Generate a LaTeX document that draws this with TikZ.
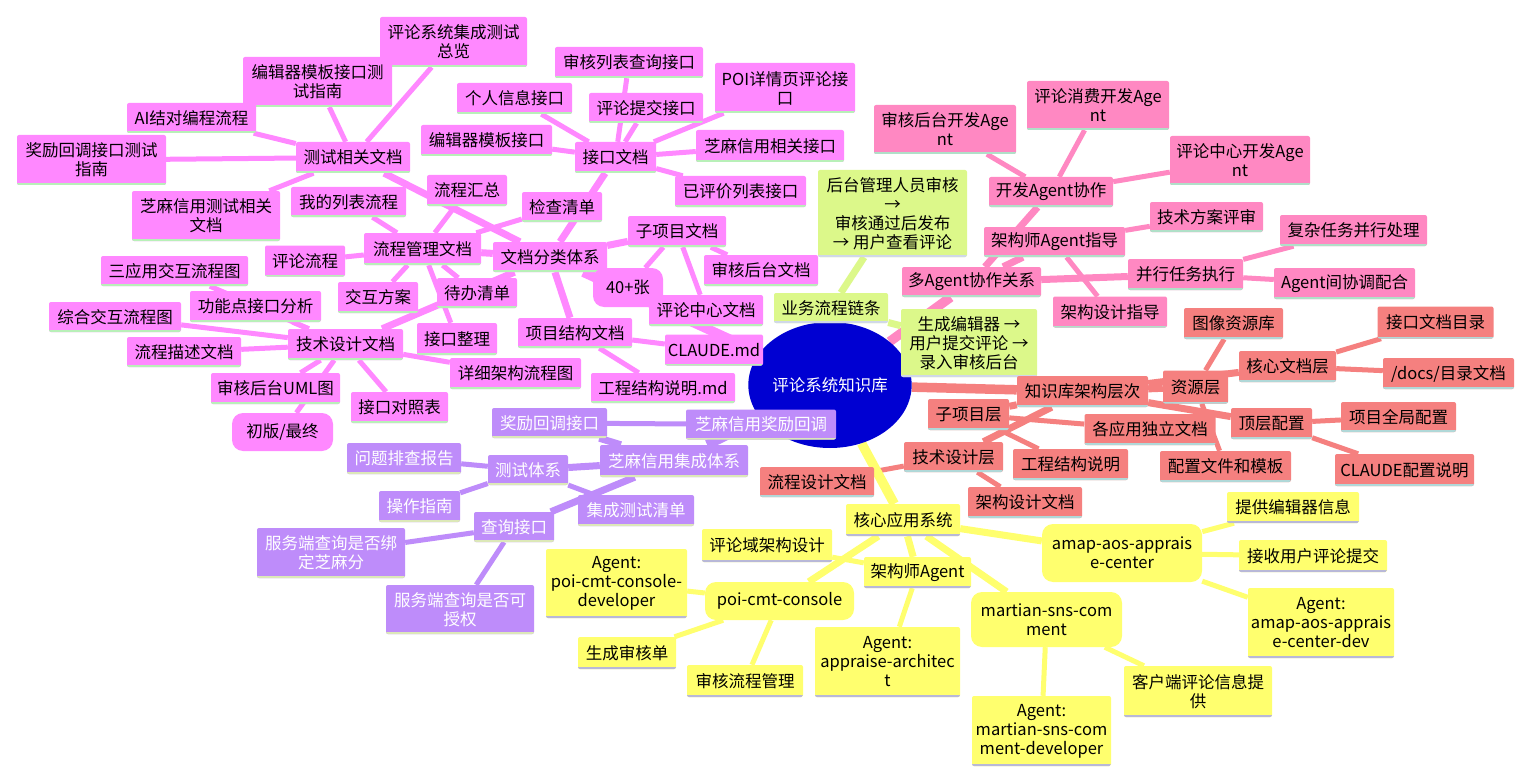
\documentclass[tikz,border=0pt]{standalone}
\usepackage{fontspec}
\setmainfont{Noto Sans CJK SC}
\usetikzlibrary{shapes.geometric}
\definecolor{cMg}{HTML}{FF88FF}
\definecolor{cPk}{HTML}{FF88C2}
\definecolor{cGr}{HTML}{DCF88A}
\definecolor{cSa}{HTML}{F5807F}
\definecolor{cPu}{HTML}{BE8CFA}
\definecolor{cYe}{HTML}{FFFF6E}
\definecolor{cRoot}{HTML}{0000D2}
\definecolor{cMgL}{HTML}{B8F0B8}
\definecolor{cPkL}{HTML}{B0E0C8}
\definecolor{cGrL}{HTML}{D0D8E8}
\definecolor{cSaL}{HTML}{B0D8D8}
\definecolor{cPuL}{HTML}{DCE8B8}
\definecolor{cYeL}{HTML}{B8B8D8}
\pgfdeclarelayer{bg}
\pgfsetlayers{bg,main}
\begin{document}
\begin{tikzpicture}[x=1pt,y=-1pt,
  nb/.style={inner sep=0pt, align=center, font=\fontsize{16.5}{19}\selectfont, rounded corners=2pt},
  sz/.style 2 args={minimum width=#1pt,minimum height=#2pt},
  bl/.style={path picture={\draw[#1,line width=4pt] (path picture bounding box.south west) -- (path picture bounding box.south east);}},
  mg/.style={nb, fill=cMg, bl=cMgL},
  mgr/.style={nb, fill=cMg, rounded corners=11pt},
  pk/.style={nb, fill=cPk, bl=cPkL},
  gr/.style={nb, fill=cGr, bl=cGrL},
  sa/.style={nb, fill=cSa, bl=cSaL},
  pu/.style={nb, fill=cPu, text=white, bl=cPuL},
  ye/.style={nb, fill=cYe, bl=cYeL},
  yer/.style={nb, fill=cYe, rounded corners=11pt},
  E0/.style={line width=9.5pt},
  E1/.style={line width=7pt},
  E2/.style={line width=5pt}]

% root
\node[ellipse, fill=cRoot, text=white, inner sep=0pt, minimum width=134pt, minimum height=126pt, font=\fontsize{16.5}{19}\selectfont] (root) at (830,385) {评论系统知识库};

% ---------- magenta branch ----------
\node[mg,sz={147}{50}] (t1) at (453.5,42) {评论系统集成测试\\总览};
\node[mg,sz={149}{50}] (t2) at (317.5,82) {编辑器模板接口测\\试指南};
\node[mg,sz={129}{30}] (t3) at (191.5,118) {AI结对编程流程};
\node[mg,sz={149}{50}] (t4) at (91.5,160) {奖励回调接口测试\\指南};
\node[mg,sz={114}{31}] (tst) at (353,157.5) {测试相关文档};
\node[mg,sz={148}{50}] (t5) at (206,216) {芝麻信用测试相关\\文档};
\node[mg,sz={115}{30}] (p1) at (348.5,202) {我的列表流程};
\node[mg,sz={117}{32}] (pm) at (422.5,249) {流程管理文档};
\node[mg,sz={148}{31}] (i1) at (629,62.5) {审核列表查询接口};
\node[mg,sz={115}{31}] (i2) at (514.5,98.5) {个人信息接口};
\node[mg,sz={140}{50}] (i3) at (785,88) {POI详情页评论接\\口};
\node[mg,sz={114}{30}] (i4) at (646,108) {评论提交接口};
\node[mg,sz={131}{31}] (i5) at (486.5,140.5) {编辑器模板接口};
\node[mg,sz={81}{31}] (ifc) at (615.5,157.5) {接口文档};
\node[mg,sz={148}{32}] (i6) at (770,146) {芝麻信用相关接口};
\node[mg,sz={131}{31}] (i7) at (740.5,191.5) {已评价列表接口};
\node[mg,sz={80}{31}] (p2) at (467,190.5) {流程汇总};
\node[mg,sz={80}{30}] (p3) at (562,207) {检查清单};
\node[mg,sz={98}{31}] (sub) at (677,231.5) {子项目文档};
\node[mg,sz={114}{30}] (doc) at (550,257) {文档分类体系};
\node[mg,sz={80}{30}] (p4) at (477,293) {待办清单};
\node[mg,sz={114}{31}] (s1) at (761,270.5) {审核后台文档};
\node[mgr,sz={70}{39}] (s2) at (628,287.5) {40+张};
\node[mg,sz={114}{31}] (s3) at (706,310.5) {评论中心文档};
\node[mg,sz={114}{30}] (prj) at (575,333) {项目结构文档};
\node[mg,sz={80}{32}] (p5) at (457,339) {接口整理};
\node[mg,sz={98}{31}] (r1) at (714,350) {CLAUDE.md};
\node[mg,sz={131}{31}] (d1) at (515.5,373.5) {详细架构流程图};
\node[mg,sz={144}{30}] (r2) at (663,388) {工程结构说明.md};
\node[mg,sz={80}{31}] (p6) at (305,261) {评论流程};
\node[mg,sz={147}{30}] (d2) at (174.5,271) {三应用交互流程图};
\node[mg,sz={80}{31}] (p7) at (378,297.5) {交互方案};
\node[mg,sz={131}{31}] (d3) at (255.5,306.5) {功能点接口分析};
\node[mg,sz={132}{30}] (d4) at (115,317) {综合交互流程图};
\node[mg,sz={115}{31}] (tech) at (345.5,344.5) {技术设计文档};
\node[mg,sz={114}{30}] (d5) at (184,352) {流程描述文档};
\node[mg,sz={129}{31}] (d6) at (275.5,388.5) {审核后台UML图};
\node[mg,sz={97}{31}] (d7) at (399.5,407.5) {接口对照表};
\node[mgr,sz={101}{38}] (d8) at (282.5,432) {初版/最终};

% ---------- pink agent branch ----------
\node[pk,sz={139}{30}] (ag) at (971.5,282) {多Agent协作关系};
\node[pk,sz={124}{30}] (a1) at (1051,192) {开发Agent协作};
\node[pk,sz={141}{30}] (a2) at (1054.5,242) {架构师Agent指导};
\node[pk,sz={115}{31}] (a3) at (1185.5,274.5) {并行任务执行};
\node[pk,sz={142}{49}] (a11) at (945,129.5) {审核后台开发Age\\nt};
\node[pk,sz={142}{49}] (a12) at (1098,105.5) {评论消费开发Age\\nt};
\node[pk,sz={140}{49}] (a13) at (1240,160.5) {评论中心开发Age\\nt};
\node[pk,sz={113}{30}] (a21) at (1206.5,217) {技术方案评审};
\node[pk,sz={114}{31}] (a22) at (1110,312) {架构设计指导};
\node[pk,sz={147}{31}] (a31) at (1353.5,230.5) {复杂任务并行处理};
\node[pk,sz={141}{31}] (a32) at (1344.5,283.5) {Agent间协调配合};

% ---------- green branch ----------
\node[gr,sz={114}{30}] (bz) at (831,308) {业务流程链条};
\node[gr,sz={149}{87}] (g1) at (892.5,213.5) {后台管理人员审核\\→\\审核通过后发布\\→ 用户查看评论};
\node[gr,sz={136}{68}] (g2) at (969,343) {生成编辑器 →\\用户提交评论 →\\录入审核后台};

% ---------- salmon branch ----------
\node[sa,sz={131}{31}] (kb) at (1082.5,391.5) {知识库架构层次};
\node[sa,sz={97}{31}] (k1) at (1287.5,366.5) {核心文档层};
\node[sa,sz={65}{33}] (k2) at (1195.5,387) {资源层};
\node[sa,sz={81}{31}] (k3) at (968.5,414.5) {子项目层};
\node[sa,sz={99}{30}] (k4) at (953.5,457) {技术设计层};
\node[sa,sz={81}{31}] (k5) at (1271.5,423.5) {顶层配置};
\node[sa,sz={116}{32}] (k11) at (1435.5,322.5) {接口文档目录};
\node[sa,sz={131}{31}] (k12) at (1448.5,373.5) {/docs/目录文档};
\node[sa,sz={99}{31}] (k21) at (1233.5,323.5) {图像资源库};
\node[sa,sz={131}{31}] (k31) at (1150,429.5) {各应用独立文档};
\node[sa,sz={131}{31}] (k22) at (1225.5,466.5) {配置文件和模板};
\node[sa,sz={115}{31}] (k32) at (1070.5,464.5) {工程结构说明};
\node[sa,sz={114}{30}] (k41) at (817,482) {流程设计文档};
\node[sa,sz={114}{31}] (k42) at (1025,502.5) {架构设计文档};
\node[sa,sz={115}{30}] (k51) at (1398.5,417) {项目全局配置};
\node[sa,sz={139}{32}] (k52) at (1404.5,470) {CLAUDE配置说明};

% ---------- purple branch ----------
\node[pu,sz={148}{32}] (zm) at (674,461) {芝麻信用集成体系};
\node[pu,sz={115}{30}] (z1) at (549.5,423) {奖励回调接口};
\node[pu,sz={150}{30}] (z11) at (761,424.5) {芝麻信用奖励回调};
\node[pu,sz={80}{30}] (z2) at (528,470) {测试体系};
\node[pu,sz={114}{31}] (z21) at (404,458.5) {问题排查报告};
\node[pu,sz={81}{31}] (z22) at (419.5,506.5) {操作指南};
\node[pu,sz={116}{31}] (z23) at (636,510.5) {集成测试清单};
\node[pu,sz={80}{30}] (z3) at (514,527) {查询接口};
\node[pu,sz={148}{50}] (z31) at (331,553) {服务端查询是否绑\\定芝麻分};
\node[pu,sz={148}{49}] (z32) at (460,609.5) {服务端查询是否可\\授权};

% ---------- yellow branch ----------
\node[ye,sz={114}{32}] (core) at (903,520) {核心应用系统};
\node[yer,sz={160}{58}] (y1) at (1122,553) {amap-aos-apprais\\e-center};
\node[ye,sz={107}{31}] (y2) at (917.5,572.5) {架构师Agent};
\node[yer,sz={149}{38}] (y3) at (779.5,601) {poi-cmt-console};
\node[yer,sz={151}{55}] (y4) at (1046.5,619.5) {martian-sns-com\\ment};
\node[ye,sz={132}{31}] (y11) at (1293,507.5) {提供编辑器信息};
\node[ye,sz={148}{32}] (y12) at (1313,556) {接收用户评论提交};
\node[ye,sz={146}{70}] (y13) at (1321,623) {Agent:\\amap-aos-apprais\\e-center-dev};
\node[ye,sz={130}{33}] (y21) at (767,545.5) {评论域架构设计};
\node[ye,sz={145}{70}] (y22) at (887.5,662) {Agent:\\appraise-architec\\t};
\node[ye,sz={141}{69}] (y31) at (616.5,583.5) {Agent:\\poi-cmt-console-\\developer};
\node[ye,sz={98}{32}] (y32) at (627,653) {生成审核单};
\node[ye,sz={116}{32}] (y33) at (745,681) {审核流程管理};
\node[ye,sz={148}{51}] (y41) at (1198,691.5) {客户端评论信息提\\供};
\node[ye,sz={139}{70}] (y42) at (1041.5,731) {Agent:\\martian-sns-com\\ment-developer};

\begin{pgfonlayer}{bg}
\fill[white] (0,0) rectangle (1532,781);
\useasboundingbox (0,0) rectangle (1532,781);
% magenta
\draw[cMg,E0] (root) -- (doc);
\foreach \c in {tst,ifc,pm,tech,sub,prj} \draw[cMg,E1] (doc) -- (\c);
\foreach \c in {t1,t2,t3,t4,t5} \draw[cMg,E2] (tst) -- (\c);
\foreach \c in {i1,i2,i3,i4,i5,i6,i7} \draw[cMg,E2] (ifc) -- (\c);
\foreach \c in {p1,p2,p3,p4,p5,p6,p7} \draw[cMg,E2] (pm) -- (\c);
\foreach \c in {d1,d2,d3,d4,d5,d6,d7,d8} \draw[cMg,E2] (tech) -- (\c);
\foreach \c in {s1,s2,s3} \draw[cMg,E2] (sub) -- (\c);
\foreach \c in {r1,r2} \draw[cMg,E2] (prj) -- (\c);
% pink
\draw[cPk,E0] (root) -- (ag);
\foreach \c in {a1,a2,a3} \draw[cPk,E1] (ag) -- (\c);
\foreach \c in {a11,a12,a13} \draw[cPk,E2] (a1) -- (\c);
\foreach \c in {a21,a22} \draw[cPk,E2] (a2) -- (\c);
\foreach \c in {a31,a32} \draw[cPk,E2] (a3) -- (\c);
% green
\draw[cGr,E0] (root) -- (bz);
\foreach \c in {g1,g2} \draw[cGr,E1] (bz) -- (\c);
% salmon
\draw[cSa,E0] (root) -- (kb);
\foreach \c in {k1,k2,k3,k4,k5} \draw[cSa,E1] (kb) -- (\c);
\foreach \c in {k11,k12} \draw[cSa,E2] (k1) -- (\c);
\foreach \c in {k21,k22} \draw[cSa,E2] (k2) -- (\c);
\foreach \c in {k31,k32} \draw[cSa,E2] (k3) -- (\c);
\foreach \c in {k41,k42} \draw[cSa,E2] (k4) -- (\c);
\foreach \c in {k51,k52} \draw[cSa,E2] (k5) -- (\c);
% purple
\draw[cPu,E0] (root) -- (zm);
\foreach \c in {z1,z2,z3} \draw[cPu,E1] (zm) -- (\c);
\draw[cPu,E2] (z1) -- (z11);
\foreach \c in {z21,z22,z23} \draw[cPu,E2] (z2) -- (\c);
\foreach \c in {z31,z32} \draw[cPu,E2] (z3) -- (\c);
% yellow
\draw[cYe,E0] (root) -- (core);
\foreach \c in {y1,y2,y3,y4} \draw[cYe,E1] (core) -- (\c);
\foreach \c in {y11,y12,y13} \draw[cYe,E2] (y1) -- (\c);
\foreach \c in {y21,y22} \draw[cYe,E2] (y2) -- (\c);
\foreach \c in {y31,y32,y33} \draw[cYe,E2] (y3) -- (\c);
\foreach \c in {y41,y42} \draw[cYe,E2] (y4) -- (\c);
\end{pgfonlayer}
\end{tikzpicture}
\end{document}
